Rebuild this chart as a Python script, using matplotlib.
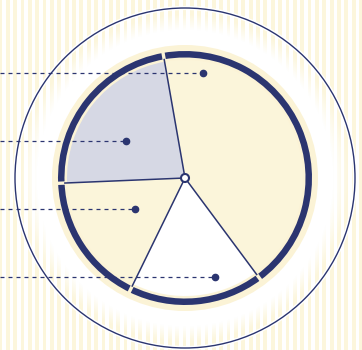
import numpy as np
import matplotlib.pyplot as plt
from matplotlib.patches import Circle

# slice shares (%), counter-clockwise from start angle
values = [42.6, 22.9, 17.1, 17.4]
slice_colors = ['#fbf5da', '#d6d8e4', '#fbf5da', '#ffffff']
start_angle = 306.6

# label leader lines: row (px from top) and dot x position
label_rows = [73, 141, 209, 277]
dot_x = [203, 126, 135, 215]

navy = '#2b3570'
pale = '#fcf6dc'
W, H = 362, 350
cx, cy = 185, H - 178

fig = plt.figure(figsize=(3.62, 3.5), dpi=100)
ax = fig.add_axes([0, 0, 1, 1])

# striped background
for x0 in np.arange(-1.5, W, 7.36):
    ax.axvspan(x0, x0 + 3.8, color=pale, lw=0, zorder=0)

# white disc fading into the stripes
X, Y = np.meshgrid(np.arange(W) + 0.5, np.arange(H) + 0.5)
r = np.hypot(X - cx, Y - cy)
img = np.ones((H, W, 4))
img[..., 3] = np.clip((164 - r) / 16, 0, 1)
ax.imshow(img, extent=(0, W, 0, H), origin='lower', zorder=1, interpolation='bilinear')

# outer thin circle with white halo
ax.add_patch(Circle((cx, cy), 170, fill=False, ec='white', lw=3, zorder=2))
ax.add_patch(Circle((cx, cy), 170, fill=False, ec=navy, lw=1, zorder=2))

# pale ring behind the pie
ax.add_patch(Circle((cx, cy), 133, fc='#fbf3d6', ec='none', zorder=3))

# thick navy ring split per slice
ax.pie(values, radius=127, center=(cx, cy), startangle=start_angle, counterclock=True,
       colors=[navy] * len(values),
       wedgeprops=dict(width=6.5, linewidth=0, zorder=4))

# the slices
ax.pie(values, radius=118, center=(cx, cy), startangle=start_angle, counterclock=True,
       colors=slice_colors, wedgeprops=dict(linewidth=0, zorder=5))

# gaps in the ring + radial separators
bounds = start_angle + np.concatenate([[0], np.cumsum(values)]) / sum(values) * 360
for a in bounds[:-1]:
    c, s = np.cos(np.radians(a)), np.sin(np.radians(a))
    ax.plot([cx + 119 * c, cx + 129 * c], [cy + 119 * s, cy + 129 * s], color='#fbf3d6',
            lw=2.4, solid_capstyle='butt', zorder=4.5)
    ax.plot([cx, cx + 121 * c], [cy, cy + 121 * s], color=navy, lw=1.1,
            solid_capstyle='butt', zorder=6)

ax.add_patch(Circle((cx, cy), 4, fc='white', ec=navy, lw=1.5, zorder=7))

# leader lines
for yy, xx in zip(label_rows, dot_x):
    ax.plot([0, xx], [H - yy, H - yy], color=navy, lw=0.9, ls=(0, (3.2, 3.2)), zorder=8)
    ax.plot(xx, H - yy, 'o', color=navy, ms=4.5, zorder=9)

ax.set_xlim(0, W)
ax.set_ylim(0, H)
ax.set_aspect('auto')
ax.axis('off')
fig.savefig('out.png', dpi=100)
